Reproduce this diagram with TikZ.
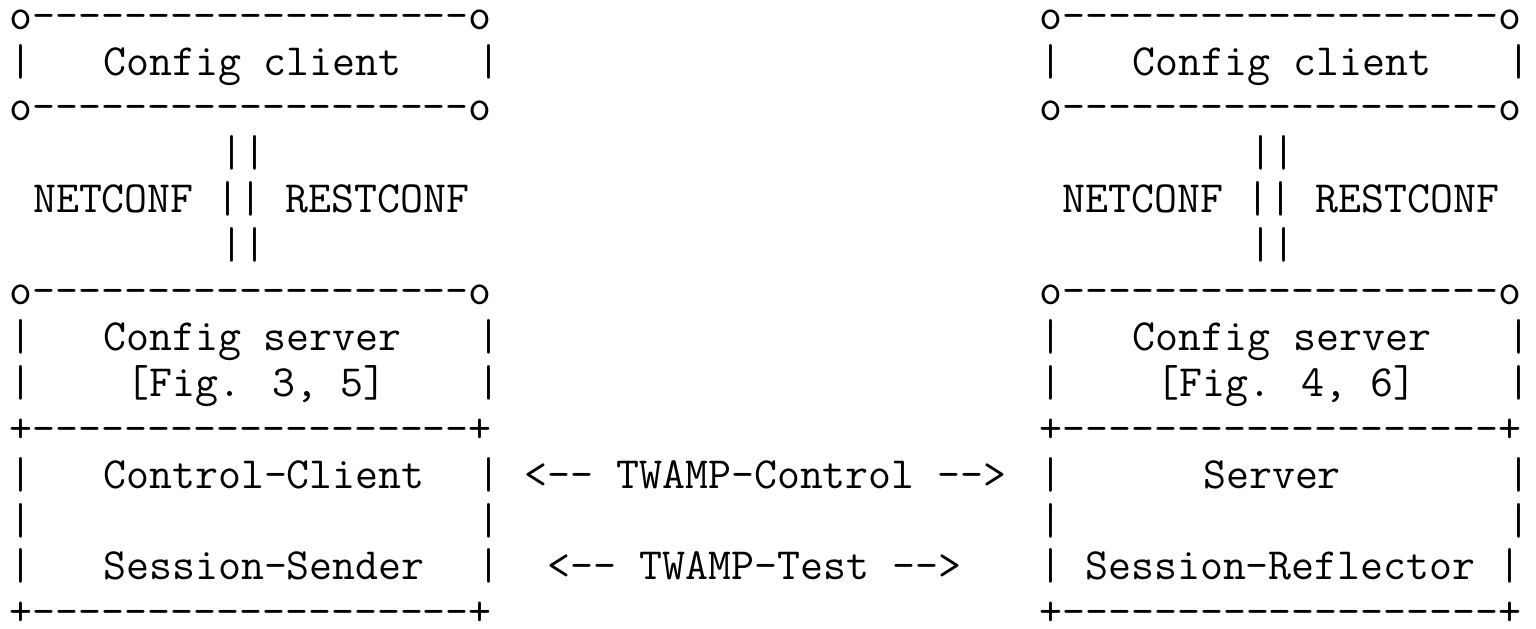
\documentclass[tikz,border=0pt]{standalone}
\usepackage{fontspec}
\usepackage{tikz}

\tikzset{ascii/.style={anchor=base west,inner sep=0pt,font=\ttfamily\fontsize{22.29pt}{26pt}\selectfont}}

\begin{document}
\begin{tikzpicture}[x=11.7pt,y=-22.95pt]
\useasboundingbox (-0.397,-0.634) rectangle (65.24,13.048);
% left stack
\node[ascii] (lcTop) at (0,0) {o-------------------o};
\node[ascii] (lcL) at (0,1) {|};
\node[ascii] (lcText) at (4,1) {Config client};
\node[ascii] (lcR) at (20,1) {|};
\node[ascii] (lcBot) at (0,2) {o-------------------o};
\node[ascii] (lpUp) at (9,3) {||};
\node[ascii] (lpText) at (1,4) {NETCONF || RESTCONF};
\node[ascii] (lpDown) at (9,5) {||};
\node[ascii] (lsTop) at (0,6) {o-------------------o};
\node[ascii] (lsL) at (0,7) {|};
\node[ascii] (lsText) at (4,7) {Config server};
\node[ascii] (lsR) at (20,7) {|};
\node[ascii] (lfL) at (0,8) {|};
\node[ascii] (lfText) at (5,8) {[Fig. 3, 5]};
\node[ascii] (lfR) at (20,8) {|};
\node[ascii] (ltTop) at (0,9) {+-------------------+};
\node[ascii] (ltL) at (0,10) {|};
\node[ascii] (ltCtrl) at (4,10) {Control-Client};
\node[ascii] (ltR) at (20,10) {|};
\node[ascii] (ltL2) at (0,11) {|};
\node[ascii] (ltR2) at (20,11) {|};
\node[ascii] (ltL3) at (0,12) {|};
\node[ascii] (ltSend) at (4,12) {Session-Sender};
\node[ascii] (ltR3) at (20,12) {|};
\node[ascii] (ltBot) at (0,13) {+-------------------+};
% between the stacks
\node[ascii] (ctrlMsg) at (22,10) {<-- TWAMP-Control -->};
\node[ascii] (testMsg) at (23,12) {<-- TWAMP-Test -->};
% right stack
\node[ascii] (rcTop) at (44,0) {o-------------------o};
\node[ascii] (rcL) at (44,1) {|};
\node[ascii] (rcText) at (48,1) {Config client};
\node[ascii] (rcR) at (64,1) {|};
\node[ascii] (rcBot) at (44,2) {o-------------------o};
\node[ascii] (rpUp) at (53,3) {||};
\node[ascii] (rpText) at (45,4) {NETCONF || RESTCONF};
\node[ascii] (rpDown) at (53,5) {||};
\node[ascii] (rsTop) at (44,6) {o-------------------o};
\node[ascii] (rsL) at (44,7) {|};
\node[ascii] (rsText) at (48,7) {Config server};
\node[ascii] (rsR) at (64,7) {|};
\node[ascii] (rfL) at (44,8) {|};
\node[ascii] (rfText) at (49,8) {[Fig. 4, 6]};
\node[ascii] (rfR) at (64,8) {|};
\node[ascii] (rtTop) at (44,9) {+-------------------+};
\node[ascii] (rtL) at (44,10) {|};
\node[ascii] (rtSrv) at (51,10) {Server};
\node[ascii] (rtR) at (64,10) {|};
\node[ascii] (rtL2) at (44,11) {|};
\node[ascii] (rtR2) at (64,11) {|};
\node[ascii] (rtRefl) at (44,12) {| Session-Reflector |};
\node[ascii] (rtBot) at (44,13) {+-------------------+};
\end{tikzpicture}
\end{document}
